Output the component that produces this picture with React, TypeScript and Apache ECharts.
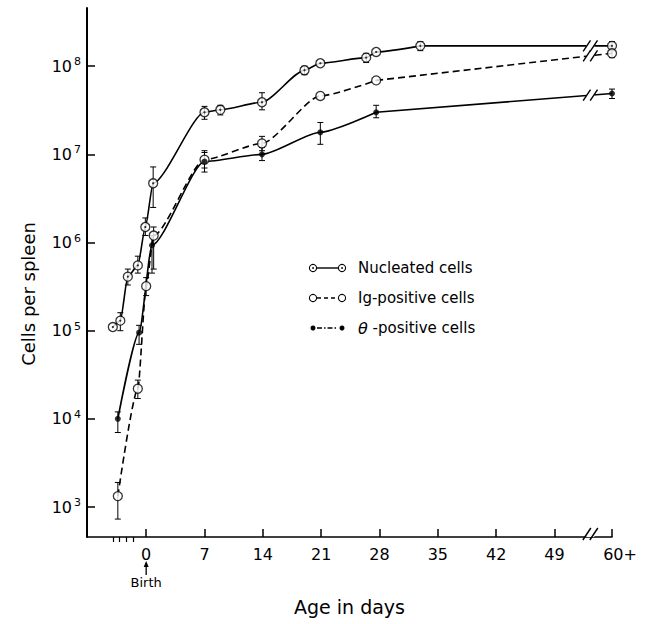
import React, { useEffect, useRef } from "react";
import * as echarts from "echarts";

// ---- data ----
const xTickDays = [0, 7, 14, 21, 28, 35, 42, 49, 55.9];
const xTickLabels = ["0", "7", "14", "21", "28", "35", "42", "49", "60+"];
const prenatalTicks = [-4, -3.2, -2.4, -1.6];
const yExponents = [3, 4, 5, 6, 7, 8];

const nucDays = [-4, -3.1, -2.2, -1.0, -0.1, 0.84, 7, 8.9, 13.9, 19, 20.9, 26.4, 27.6, 32.9, 55.9];
const nucCells = [1.1e5, 1.3e5, 4.1e5, 5.5e5, 1.5e6, 4.7e6, 3.0e7, 3.2e7, 3.9e7, 9.0e7, 1.08e8, 1.25e8, 1.45e8, 1.7e8, 1.7e8];
const nucLow = [null, 1.0e5, 3.3e5, 4.5e5, 1.2e6, 2.5e6, 2.5e7, 2.8e7, 3.2e7, 8.0e7, null, 1.1e8, null, 1.5e8, 1.5e8];
const nucHigh = [null, 1.6e5, 5.0e5, 7.0e5, 1.9e6, 7.2e6, 3.5e7, 3.6e7, 5.0e7, 1.0e8, null, 1.4e8, null, 1.9e8, 1.9e8];

const igDays = [-3.4, -1.0, 0.0, 0.9, 7, 13.9, 20.9, 27.6, 55.9];
const igCells = [1.33e3, 2.2e4, 3.2e5, 1.2e6, 8.7e6, 1.33e7, 4.6e7, 6.9e7, 1.4e8];
const igLow = [7.3e2, 1.7e4, 2.5e5, 5.0e5, 7.0e6, 1.1e7, null, null, 1.25e8];
const igHigh = [1.9e3, 2.75e4, 4.0e5, 1.5e6, 1.05e7, 1.6e7, null, null, 1.6e8];

const thDays = [-3.4, -0.85, 0.7, 7, 13.9, 20.9, 27.6, 55.9];
const thCells = [1.0e4, 9.5e4, 9.3e5, 8.3e6, 1.0e7, 1.78e7, 3.0e7, 4.9e7];
const thLow = [7.0e3, 7.0e4, 4.5e5, 6.3e6, 8.5e6, 1.3e7, 2.6e7, 4.3e7];
const thHigh = [1.2e4, 1.15e5, 1.2e6, 1.1e7, 1.2e7, 2.3e7, 3.6e7, 5.5e7];

const legendLabels = ["Nucleated cells", "Ig-positive cells", "θ"];

// ---- helpers ----
const FONT = "DejaVu Sans";
const lg = (v: number) => Math.log10(v);
const pts = (d: number[], c: number[]) => d.map((x, i) => [x, lg(c[i])]);
const bars = (d: number[], lo: (number | null)[], hi: (number | null)[]) =>
  d
    .map((x, i) => (lo[i] != null && hi[i] != null ? [x, lg(lo[i] as number), lg(hi[i] as number)] : null))
    .filter((r) => r !== null);

const BREAK_DAY = 53.3;

function errSeries(data: any[]) {
  return {
    type: "custom",
    data,
    encode: { x: 0, y: [1, 2] },
    z: 2,
    silent: true,
    renderItem: (_p: any, api: any) => {
      const x = api.value(0);
      const a = api.coord([x, api.value(1)]);
      const b = api.coord([x, api.value(2)]);
      const w = 3;
      const st = { stroke: "#000", lineWidth: 1 };
      return {
        type: "group",
        children: [
          { type: "line", shape: { x1: a[0], y1: a[1], x2: b[0], y2: b[1] }, style: st },
          { type: "line", shape: { x1: a[0] - w, y1: a[1], x2: a[0] + w, y2: a[1] }, style: st },
          { type: "line", shape: { x1: b[0] - w, y1: b[1], x2: b[0] + w, y2: b[1] }, style: st },
        ],
      };
    },
  };
}

function lineSeries(p: number[][], dash: any) {
  const main = p.slice(0, p.length - 1);
  const tail = p.slice(p.length - 2);
  const ls = { color: "#000", width: 1.6, type: dash };
  return [
    { type: "line", data: main, smooth: 0.22, smoothMonotone: "x", showSymbol: false, lineStyle: ls, z: 1, silent: true },
    { type: "line", data: tail, smooth: false, showSymbol: false, lineStyle: ls, z: 1, silent: true },
  ];
}

export default function App() {
  const ref = useRef<HTMLDivElement>(null);
  useEffect(() => {
    if (!ref.current) return;
    const chart = echarts.init(ref.current, undefined, { renderer: "svg" });
    const nucP = pts(nucDays, nucCells);
    const igP = pts(igDays, igCells);
    const thP = pts(thDays, thCells);

    const option: any = {
      animation: false,
      backgroundColor: "#fff",
      grid: { left: 87, right: 35, top: 8, bottom: 87, containLabel: false, outerBoundsMode: "none" },
      xAxis: [
        {
          type: "value",
          min: -7.1,
          max: 55.9,
          position: "bottom",
          name: "Age in days",
          nameLocation: "middle",
          nameGap: 60,
          nameTextStyle: { fontFamily: FONT, fontSize: 19, color: "#000" },
          axisLine: { show: true, onZero: false, lineStyle: { color: "#000", width: 1.5 } },
          axisTick: { show: true, inside: true, length: 8, customValues: xTickDays, lineStyle: { color: "#000", width: 1.5 } },
          axisLabel: {
            customValues: xTickDays,
            margin: 9,
            fontFamily: FONT,
            fontSize: 16,
            color: "#000",
            formatter: (v: number) => {
              const i = xTickDays.findIndex((d) => Math.abs(d - v) < 1e-6);
              if (i === xTickDays.length - 1) return "{r|" + xTickLabels[i] + "}";
              return i >= 0 ? xTickLabels[i] : "";
            },
            rich: { r: { fontFamily: FONT, fontSize: 16, color: "#000", padding: [0, 0, 0, 16] } },
          },
          splitLine: { show: false },
        },
        {
          type: "value",
          min: -7.1,
          max: 55.9,
          position: "bottom",
          axisLine: { show: false, onZero: false },
          axisTick: { show: true, inside: false, length: 5, customValues: prenatalTicks, lineStyle: { color: "#000", width: 1.2 } },
          axisLabel: { show: false },
          splitLine: { show: false },
        },
      ],
      yAxis: {
        type: "value",
        min: 2.66,
        max: 8.66,
        position: "left",
        axisLine: { show: true, onZero: false, lineStyle: { color: "#000", width: 2 } },
        axisTick: { show: true, inside: true, length: 8, customValues: yExponents, lineStyle: { color: "#000", width: 1.5 } },
        axisLabel: {
          customValues: yExponents,
          margin: 6,
          formatter: (v: number) => "{b|10}{s|" + Math.round(v) + "}",
          rich: {
            b: { fontFamily: FONT, fontSize: 16, color: "#000", lineHeight: 20 },
            s: { fontFamily: FONT, fontSize: 11, color: "#000", padding: [0, 0, 9, 2], lineHeight: 20 },
          },
        },
        splitLine: { show: false },
      },
      series: [
        errSeries(bars(nucDays, nucLow, nucHigh)),
        errSeries(bars(igDays, igLow, igHigh)),
        errSeries(bars(thDays, thLow, thHigh)),
        ...lineSeries(nucP, "solid"),
        ...lineSeries(igP, [7, 4]),
        ...lineSeries(thP, "solid"),
        {
          type: "scatter", data: nucP, symbol: "circle", symbolSize: 9, z: 5, silent: true,
          itemStyle: { color: "#fff", borderColor: "#000", borderWidth: 1.3 },
        },
        { type: "scatter", data: nucP, symbol: "circle", symbolSize: 2.2, z: 6, silent: true, itemStyle: { color: "#000" } },
        {
          type: "scatter", data: igP, symbol: "circle", symbolSize: 9, z: 5, silent: true,
          itemStyle: { color: "#fff", borderColor: "#000", borderWidth: 1.3 },
        },
        { type: "scatter", data: thP, symbol: "circle", symbolSize: 6, z: 6, silent: true, itemStyle: { color: "#000" } },
      ],
    };
    chart.setOption(option);

    // decorations computed from the chart's own scale
    const px = (d: number, lv: number) => chart.convertToPixel({ xAxisIndex: 0, yAxisIndex: 0 }, [d, lv]) as number[];
    const interpAt = (p: number[][], d: number) => {
      const a = p[p.length - 2];
      const b = p[p.length - 1];
      return a[1] + ((b[1] - a[1]) * (d - a[0])) / (b[0] - a[0]);
    };
    const g: any[] = [];
    const slash = (cx: number, cy: number, h: number) => {
      g.push({ type: "rect", shape: { x: cx - 4, y: cy - 3, width: 8, height: 6 }, style: { fill: "#fff" }, z: 20 });
      [-3.5, 3.5].forEach((o) =>
        g.push({
          type: "line",
          shape: { x1: cx + o - h / 3, y1: cy + h / 2, x2: cx + o + h / 3, y2: cy - h / 2 },
          style: { stroke: "#000", lineWidth: 1.4 },
          z: 21,
        })
      );
    };
    [nucP, igP, thP].forEach((p) => {
      const q = px(BREAK_DAY, interpAt(p, BREAK_DAY));
      slash(q[0], q[1], 11);
    });
    const ax = px(BREAK_DAY, 2.66);
    slash(ax[0], ax[1] - 3, 12);

    // Birth arrow
    const b0 = px(0, 2.66);
    g.push({ type: "line", shape: { x1: b0[0], y1: b0[1] + 38, x2: b0[0], y2: b0[1] + 26 }, style: { stroke: "#000", lineWidth: 1.3 } });
    g.push({
      type: "polygon",
      shape: { points: [[b0[0], b0[1] + 24], [b0[0] - 2.5, b0[1] + 30], [b0[0] + 2.5, b0[1] + 30]] },
      style: { fill: "#000" },
    });
    g.push({
      type: "text",
      x: b0[0],
      y: b0[1] + 45,
      style: { text: "Birth", fontFamily: FONT, fontSize: 13, fill: "#000", align: "center", verticalAlign: "middle" },
    });

    // Y axis title
    g.push({
      type: "text",
      x: 28,
      y: 294,
      rotation: Math.PI / 2,
      style: { text: "Cells per spleen", fontFamily: FONT, fontSize: 18, fill: "#000", align: "center", verticalAlign: "middle" },
    });

    // legend
    const rows = [268, 298, 328];
    const lx1 = 313, lx2 = 342, tx = 358;
    rows.forEach((y, i) => {
      const dash = i === 0 ? null : i === 1 ? [4, 3] : [5, 2, 1.5, 2];
      g.push({
        type: "line",
        shape: { x1: lx1 + 4, y1: y, x2: lx2 - 4, y2: y },
        style: { stroke: "#000", lineWidth: 1.4, lineDash: dash },
      });
      [lx1, lx2].forEach((cx) => {
        if (i === 2) {
          g.push({ type: "circle", shape: { cx, cy: y, r: 2.5 }, style: { fill: "#000" } });
        } else {
          g.push({ type: "circle", shape: { cx, cy: y, r: 3.6 }, style: { fill: "#fff", stroke: "#000", lineWidth: 1.1 } });
          if (i === 0) g.push({ type: "circle", shape: { cx, cy: y, r: 0.9 }, style: { fill: "#000" } });
        }
      });
      const text = i === 2 ? "{i|" + legendLabels[2] + "} -positive cells" : legendLabels[i];
      g.push({
        type: "text",
        x: tx,
        y,
        style: {
          text,
          fontFamily: FONT,
          fontSize: 15,
          fill: "#000",
          verticalAlign: "middle",
          rich: { i: { fontFamily: FONT, fontSize: 16, fontStyle: "italic", fill: "#000" } },
        },
      });
    });

    chart.setOption({ graphic: { elements: g } });
    return () => chart.dispose();
  }, []);
  return <div ref={ref} style={{ position: "absolute", left: 0, top: 0, width: 647, height: 624 }} />;
}
